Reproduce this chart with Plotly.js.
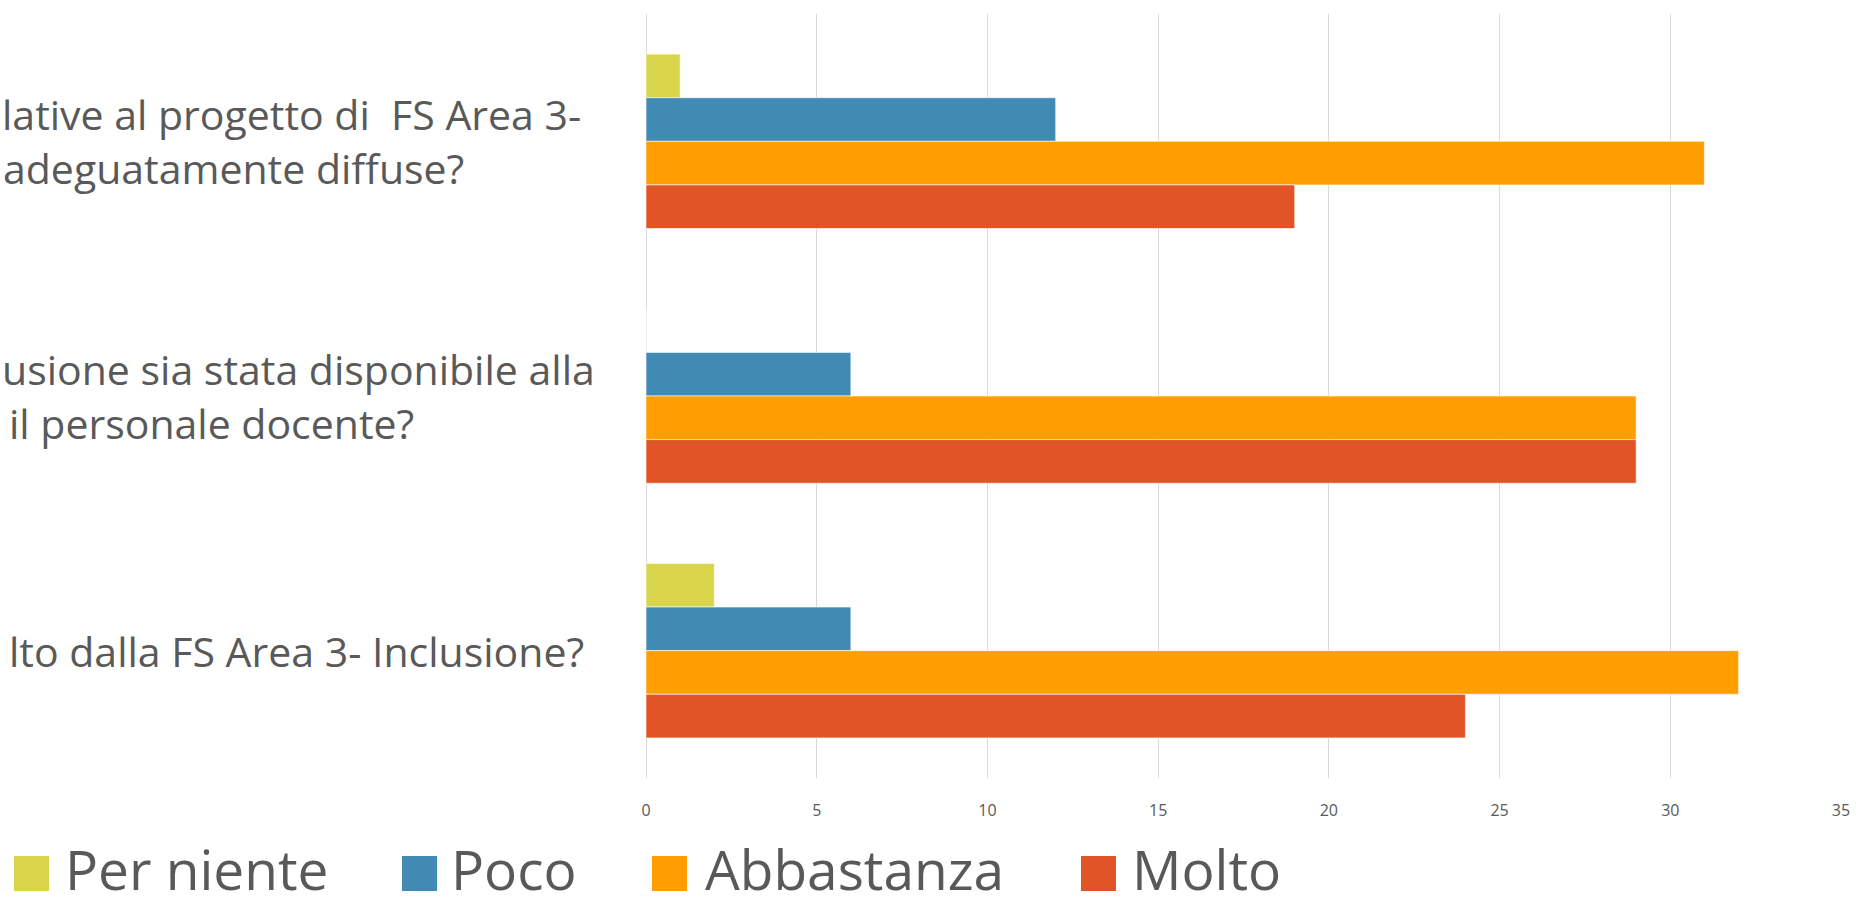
<!DOCTYPE html>
<html>
<head>
<meta charset="utf-8">
<script src="https://cdn.plot.ly/plotly-3.0.1.min.js"></script>
<style>
html,body{margin:0;padding:0;background:#fff;overflow:hidden;}
#chart{width:1856px;height:908px;}
</style>
</head>
<body>
<div id="chart"></div>
<script>
// ---- data ----
var categories = [
  "lative al progetto di  FS Area 3-<br>adeguatamente diffuse?",
  "usione sia stata disponibile alla<br>il personale docente?",
  "lto dalla FS Area 3- Inclusione?"
];
var seriesNames = ["Per niente", "Poco", "Abbastanza", "Molto"];
var perNiente   = [1, 0, 2];
var poco        = [12, 6, 6];
var abbastanza  = [31, 29, 32];
var molto       = [19, 29, 24];
var xTickValues = [0, 5, 10, 15, 20, 25, 30, 35];

// ---- styling ----
var colors = ["#D9D54A", "#418AB3", "#FF9E00", "#E15426"];
var seriesValues = [perNiente, poco, abbastanza, molto];

var L = 646, R = 1841, T = 14, B = 778;
var W = R - L, H = B - T;
function xp(px){ return (px - L) / W; }
function yp(py){ return (B - py) / H; }

var traces = seriesNames.map(function(name, i){
  return {
    type: "bar",
    orientation: "h",
    name: name,
    x: seriesValues[i],
    y: categories,
    marker: {color: colors[i], line: {color: "rgba(255,255,255,0.6)", width: 1}},
    showlegend: false,
    hoverinfo: "x+name"
  };
});

// left edge (px) of each label line, as placed in the reference
var lineLeft = [[0, 1], [0, 7], [7]];
var annotations = [];
categories.forEach(function(cat, c){
  var lines = cat.split("<br>");
  var n = lines.length;
  lines.forEach(function(line, j){
    annotations.push({
      xref: "paper", yref: "y",
      x: xp(lineLeft[c][j]), y: cat,
      xanchor: "left", yanchor: "middle",
      yshift: n === 1 ? 0 : (j === 0 ? 27 : -27),
      text: line, showarrow: false,
      font: {family: "Open Sans", size: 41, color: "#595959"}
    });
  });
});

// manual legend (large swatches as in the reference)
var legendSwatchX = [14, 402, 652, 1081];
var legendTextX = [67, 453, 707, 1134];
var shapes = [];
seriesNames.forEach(function(name, i){
  shapes.push({
    type: "rect", xref: "paper", yref: "paper",
    x0: xp(legendSwatchX[i]), x1: xp(legendSwatchX[i] + 35),
    y0: yp(891), y1: yp(856),
    fillcolor: colors[i], line: {width: 0}
  });
  annotations.push({
    xref: "paper", yref: "paper",
    x: xp(legendTextX[i] - 4), y: yp(869),
    xanchor: "left", yanchor: "middle",
    text: name, showarrow: false,
    font: {family: "Open Sans", size: 55, color: "#595959"}
  });
});

var layout = {
  width: 1856, height: 908,
  margin: {l: L, r: 1856 - R, t: T, b: 908 - B, pad: 0},
  paper_bgcolor: "#ffffff", plot_bgcolor: "#ffffff",
  barmode: "group",
  bargap: 0.315, bargroupgap: 0,
  xaxis: {
    range: [0, 35], tickvals: xTickValues, ticktext: xTickValues.map(String),
    showgrid: true, gridcolor: "#d9d9d9", gridwidth: 1,
    zeroline: true, zerolinecolor: "#d9d9d9", zerolinewidth: 1,
    showline: false, ticks: "", ticklabelstandoff: 21,
    tickfont: {family: "Open Sans", size: 16, color: "#595959"},
    fixedrange: true
  },
  yaxis: {
    type: "category", autorange: "reversed",
    showticklabels: false, showgrid: false, zeroline: false, showline: false,
    ticks: "", fixedrange: true
  },
  annotations: annotations,
  shapes: shapes,
  showlegend: false
};

Plotly.newPlot("chart", traces, layout, {displayModeBar: false});
</script>
</body>
</html>
